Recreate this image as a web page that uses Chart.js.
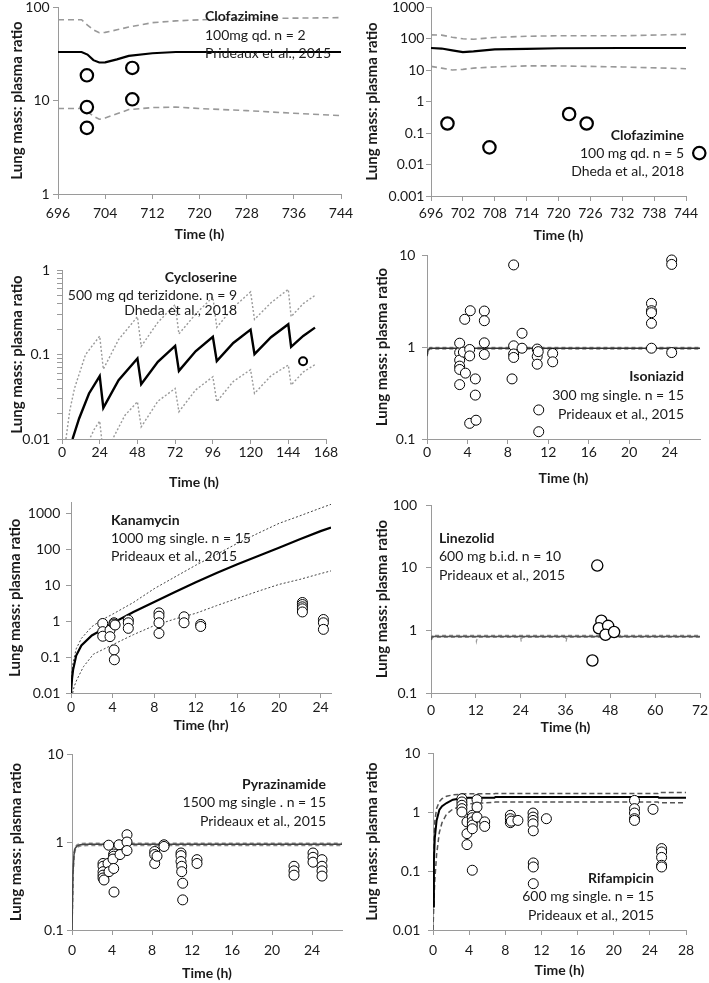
<!DOCTYPE html>
<html>
<head>
<meta charset="utf-8">
<title>Lung mass: plasma ratio</title>
<script src="https://cdn.jsdelivr.net/npm/chart.js@4.4.1/dist/chart.umd.min.js"></script>
<style>
  html, body { margin: 0; padding: 0; background: #fff; }
  body { width: 709px; height: 983px; position: relative; overflow: hidden; }
  canvas { position: absolute; }
</style>
</head>
<body>
<canvas id="clof-prideaux"></canvas>
<canvas id="clof-dheda"></canvas>
<canvas id="cycloserine"></canvas>
<canvas id="isoniazid"></canvas>
<canvas id="kanamycin"></canvas>
<canvas id="linezolid"></canvas>
<canvas id="pyrazinamide"></canvas>
<canvas id="rifampicin"></canvas>
<script>
// ---- CLOFAZIMINE (Prideaux) ----
const clofPT   = [696, 700, 701, 702, 703, 704, 706, 708, 712, 716, 720, 728, 736, 744];
const clofPMid = [33, 33, 31, 27, 25.5, 25.6, 27.5, 30, 32, 33, 33, 33, 33, 33];
const clofPHi  = [73, 73, 64, 57, 53, 53.5, 57, 61, 68, 71, 73, 75, 76, 77];
const clofPLo  = [8.2, 8.2, 7.6, 6.8, 6.3, 6.5, 7.2, 8.0, 8.4, 8.5, 8.2, 7.8, 7.3, 6.9];
const clofPObsT = [700.9, 700.9, 700.9, 708.6, 708.6];
const clofPObs  = [18.6, 8.5, 5.1, 22.3, 10.3];
const clofPXTicks = [696, 704, 712, 720, 728, 736, 744];
const clofPYTicks = [1, 10, 100];

// ---- CLOFAZIMINE (Dheda) ----
const clofDT   = [696, 698, 700, 702, 704, 708, 714, 720, 732, 744];
const clofDMid = [50, 48, 42, 37, 39, 45, 47, 49, 50, 50];
const clofDHi  = [130, 128, 110, 98, 95, 108, 118, 122, 122, 135];
const clofDLo  = [13, 11.5, 10, 10.5, 11.5, 12.5, 13.5, 13.5, 12.5, 11];
const clofDObsT = [699.1, 707, 722, 725.3, 746.5];   // last one sits past the 744 axis end
const clofDObs  = [0.2, 0.035, 0.4, 0.2, 0.023];
const clofDXTicks = [696, 702, 708, 714, 720, 726, 732, 738, 744];
const clofDYTicks = [0.001, 0.01, 0.1, 1, 10, 100, 1000];

// ---- CYCLOSERINE ----
const cycMidT = [6.7, 10.9, 17.2, 24, 26.3, 36, 48, 50.4, 61, 72, 74.4, 85, 96, 98.5, 109, 120, 122.5, 133, 144, 145.8, 153.5, 161];
const cycMid  = [0.01, 0.0175, 0.0346, 0.0555, 0.0234, 0.0497, 0.0897, 0.0446, 0.082, 0.1265, 0.064, 0.109, 0.162, 0.0834, 0.137, 0.197, 0.101, 0.16, 0.228, 0.123, 0.166, 0.208];
const cycHiT  = [2.5, 5, 8, 15, 24, 26.3, 36, 48, 50.4, 61, 72, 74.4, 85, 96, 98.5, 109, 120, 122.5, 133, 144, 145.8, 153.5, 161];
const cycHi   = [0.01, 0.022, 0.04, 0.1, 0.165, 0.067, 0.15, 0.28, 0.125, 0.24, 0.39, 0.175, 0.3, 0.48, 0.21, 0.36, 0.55, 0.26, 0.41, 0.59, 0.28, 0.4, 0.5];
const cycLoT  = [17, 20.5, 24, 26.3, 32, 40, 48, 50.4, 61, 72, 74.4, 85, 96, 98.5, 109, 120, 122.5, 133, 144, 145.8, 153.5, 161];
const cycLo   = [0.0095, 0.013, 0.0163, 0.0066, 0.0098, 0.019, 0.0276, 0.0139, 0.028, 0.0397, 0.021, 0.038, 0.0545, 0.0276, 0.048, 0.066, 0.0346, 0.056, 0.075, 0.0435, 0.062, 0.076];
const cycObsT = [153.4];
const cycObs  = [0.083];
const cycXTicks = [0, 24, 48, 72, 96, 120, 144, 168];
const cycYTicks = [0.01, 0.02, 0.03, 0.04, 0.05, 0.06, 0.07, 0.08, 0.09, 0.1, 0.2, 0.3, 0.4, 0.5, 0.6, 0.7, 0.8, 0.9, 1];
const cycYLabels = ['0.01', '', '', '', '', '', '', '', '', '0.1', '', '', '', '', '', '', '', '', '1'];

// ---- ISONIAZID ----
const isoLineT = [0, 0.1, 0.3, 27];
const isoMid = [0.8, 0.93, 0.97, 0.97];
const isoHi  = [0.82, 0.95, 0.99, 0.99];
const isoLo  = [0.78, 0.9, 0.95, 0.95];
const isoObsT = [3.23, 3.23, 3.23, 3.23, 3.23, 3.23, 3.73, 3.8, 3.6, 4.22, 4.22, 4.28, 4.22, 4.78, 4.78, 4.85, 5.67, 5.67, 5.67, 5.67, 8.57, 8.41, 8.57, 8.57, 8.57, 9.4, 9.4, 10.9, 10.9, 10.9, 11.0, 11.05, 11.05, 12.43, 12.43, 22.2, 22.2, 22.2, 22.2, 22.2, 24.2, 24.2, 24.2];
const isoObs  = [0.87, 1.10, 0.72, 0.62, 0.57, 0.39, 2.0, 0.52, 0.88, 0.94, 0.80, 2.48, 0.148, 0.45, 0.30, 0.16, 2.46, 1.93, 1.11, 0.83, 7.8, 0.45, 1.03, 0.84, 0.77, 1.41, 0.97, 0.95, 0.79, 0.65, 0.89, 0.207, 0.12, 0.85, 0.69, 2.98, 2.48, 2.36, 1.81, 0.97, 8.83, 7.9, 0.87];
const isoXTicks = [0, 4, 8, 12, 16, 20, 24];
const isoYTicks = [0.1, 1, 10];

// ---- KANAMYCIN ----
const kanLineT = [0, 0.1, 0.2, 0.5, 1, 2, 3, 4, 6, 8, 10, 12, 14, 16, 18, 20, 22, 24, 25];
const kanMid = [0.01, 0.025, 0.044, 0.11, 0.21, 0.4, 0.58, 0.88, 1.8, 3.4, 6.5, 12, 22, 38, 65, 110, 190, 320, 400];
const kanHi  = [0.01, 0.04, 0.07, 0.17, 0.33, 0.7, 1.1, 1.56, 3.3, 8, 17, 36, 72, 146, 280, 525, 850, 1400, 1780];
const kanLoT = [0.16, 0.3, 0.55, 1.2, 2.15, 4, 6, 8, 10, 12, 14, 16, 18, 20, 22, 24, 25];
const kanLo  = [0.01, 0.015, 0.023, 0.054, 0.12, 0.22, 0.42, 0.75, 1.15, 1.65, 2.7, 4.3, 6.8, 10.5, 14.5, 21, 25];
const kanObsT = [3.05, 3.05, 3.05, 3.75, 3.75, 4.14, 4.14, 4.24, 4.14, 4.17, 5.51, 5.51, 5.51, 8.46, 8.46, 8.46, 8.46, 10.87, 10.87, 12.47, 12.47, 22.25, 22.25, 22.25, 22.25, 22.25, 24.27, 24.27, 24.27];
const kanObs  = [0.86, 0.51, 0.38, 0.56, 0.37, 0.9, 0.83, 0.78, 0.158, 0.084, 1.07, 0.9, 0.63, 1.7, 1.37, 0.9, 0.456, 1.32, 0.9, 0.81, 0.71, 3.3, 2.9, 2.5, 2.2, 1.8, 1.11, 0.9, 0.59];
const kanXTicks = [0, 4, 8, 12, 16, 20, 24];
const kanYTicks = [0.01, 0.1, 1, 10, 100, 1000];

// ---- LINEZOLID ----
const linLineT = [0, 0.3, 12, 12.15, 12.4, 24, 24.15, 24.4, 36, 36.15, 36.4, 72];
const linMid = [0.7, 0.8, 0.8, 0.8, 0.8, 0.8, 0.8, 0.8, 0.8, 0.8, 0.8, 0.8];
const linHi  = [0.72, 0.83, 0.83, 0.83, 0.83, 0.83, 0.83, 0.83, 0.83, 0.83, 0.83, 0.83];
const linLo  = [0.55, 0.77, 0.77, 0.66, 0.77, 0.77, 0.66, 0.77, 0.77, 0.66, 0.77, 0.77];
const linObsT = [44.5, 45.6, 44.95, 47.4, 46.7, 49.0, 43.2];
const linObs  = [10.8, 1.42, 1.08, 1.18, 0.85, 0.94, 0.33];
const linXTicks = [0, 12, 24, 36, 48, 60, 72];
const linYTicks = [0.1, 1, 10, 100];

// ---- PYRAZINAMIDE ----
const pyrLineT = [0, 0.1, 0.2, 0.3, 0.5, 0.8, 1.5, 27];
const pyrMid = [0.1, 0.45, 0.72, 0.84, 0.9, 0.93, 0.94, 0.94];
const pyrHi  = [0.1, 0.5, 0.76, 0.87, 0.93, 0.96, 0.97, 0.97];
const pyrLo  = [0.1, 0.4, 0.68, 0.8, 0.87, 0.9, 0.91, 0.91];
const pyrObsT = [3.1, 3.1, 3.1, 3.1, 3.1, 3.2, 3.67, 3.6, 3.7, 4.17, 4.17, 4.1, 4.17, 4.2, 4.7, 4.8, 5.5, 5.5, 5.5, 8.27, 8.27, 8.27, 8.5, 9.2, 9.2, 10.9, 10.9, 10.9, 10.97, 10.97, 11.07, 11.07, 12.5, 12.5, 22.2, 22.2, 22.2, 24.1, 24.1, 24.1, 25, 25, 25, 25];
const pyrObs  = [0.57, 0.53, 0.46, 0.42, 0.39, 0.37, 0.92, 0.57, 0.46, 0.73, 0.69, 0.64, 0.5, 0.27, 0.93, 0.72, 1.21, 1.0, 0.8, 0.78, 0.72, 0.57, 0.69, 0.93, 0.89, 0.75, 0.7, 0.6, 0.53, 0.46, 0.34, 0.22, 0.63, 0.57, 0.53, 0.47, 0.42, 0.75, 0.67, 0.59, 0.63, 0.53, 0.47, 0.41];
const pyrXTicks = [0, 4, 8, 12, 16, 20, 24];
const pyrYTicks = [0.1, 1, 10];

// ---- RIFAMPICIN ----
const rifLineT = [0, 0.1, 0.2, 0.4, 0.7, 1, 1.5, 2.2, 3.3, 4, 6.8, 6.9, 24.9, 25, 28];
const rifMid = [0.025, 0.15, 0.36, 0.72, 1.08, 1.25, 1.42, 1.62, 1.72, 1.75, 1.75, 1.8, 1.8, 1.75, 1.75];
const rifHi  = [0.05, 0.3, 0.7, 1.15, 1.5, 1.68, 1.85, 1.95, 2.02, 2.04, 2.04, 2.05, 2.05, 2.15, 2.15];
const rifLo  = [0.01, 0.03, 0.07, 0.19, 0.45, 0.66, 0.92, 1.12, 1.28, 1.37, 1.46, 1.48, 1.48, 1.44, 1.44];
const rifObsT = [3.2, 3.2, 3.2, 3.2, 3.2, 3.76, 3.76, 3.76, 4.35, 4.35, 4.35, 4.35, 4.35, 4.35, 4.87, 4.87, 4.87, 5.72, 5.72, 8.56, 8.56, 8.56, 8.67, 9.4, 11.07, 11.07, 11.07, 11.07, 11.1, 11.1, 11.1, 11.1, 12.55, 22.3, 22.3, 22.3, 22.3, 22.3, 24.35, 25.3, 25.3, 25.3, 25.3, 25.3];
const rifObs  = [1.68, 1.48, 1.3, 1.14, 1.0, 0.68, 0.43, 0.28, 0.88, 0.8, 0.68, 0.6, 0.52, 0.103, 1.62, 1.21, 0.82, 0.68, 0.57, 0.88, 0.77, 0.66, 0.7, 0.72, 0.96, 0.82, 0.72, 0.63, 0.48, 0.137, 0.117, 0.061, 0.77, 1.57, 1.14, 0.96, 0.77, 0.72, 1.11, 0.24, 0.21, 0.17, 0.125, 0.117];
const rifXTicks = [0, 4, 8, 12, 16, 20, 24, 28];
const rifYTicks = [0.01, 0.1, 1, 10];


const FONT = 'Lato, "Noto Sans", sans-serif';
const AXIS = '#9a9a9a';
const INK = '#1a1a1a';

function toXY(xs, ys) {
    return xs.map((x, i) => ({ x: x, y: ys[i] }));
}

function line(xs, ys, color, width, dash) {
    return {
        data: toXY(xs, ys),
        showLine: true,
        borderColor: color,
        borderWidth: width,
        borderDash: dash || [],
        pointRadius: 0,
        order: 1
    };
}

function dots(xs, ys, r, bw) {
    return {
        data: toXY(xs, ys),
        showLine: false,
        pointRadius: r,
        pointHoverRadius: r,
        pointBorderWidth: bw,
        pointBorderColor: '#000',
        pointBackgroundColor: '#fff',
        clip: false,
        order: 0
    };
}

// drug name + dose + source, drawn inside each panel
const panelText = {
    id: 'panelText',
    afterDraw(chart, args, opts) {
        const ctx = chart.ctx;
        ctx.save();
        ctx.fillStyle = INK;
        ctx.textBaseline = 'middle';
        ctx.textAlign = opts.align;
        opts.lines.forEach((s, i) => {
            ctx.font = (i === 0 ? 'bold ' : '') + '14px ' + FONT;
            ctx.fillText(s, opts.x, opts.y[i]);
        });
        ctx.restore();
    }
};

// Chart.js skips points outside the plot area; the Dheda clofazimine
// panel has one past 744 h, so that circle is drawn here via the scales
const outsidePoints = {
    id: 'outsidePoints',
    afterDatasetsDraw(chart) {
        const ctx = chart.ctx;
        const xs = chart.scales.x, ys = chart.scales.y;
        chart.data.datasets.forEach(ds => {
            if (!ds.drawOutside) return;
            ctx.save();
            ctx.lineWidth = ds.pointBorderWidth;
            ctx.strokeStyle = ds.pointBorderColor;
            ctx.fillStyle = ds.pointBackgroundColor;
            ds.data.forEach(d => {
                if (d.x >= xs.min && d.x <= xs.max) return;
                const px = xs.getPixelForValue(d.x);
                const py = ys.getPixelForValue(d.y);
                ctx.beginPath();
                ctx.arc(px, py, ds.pointRadius, 0, Math.PI * 2);
                ctx.fill();
                ctx.stroke();
            });
            ctx.restore();
        });
    }
};

function makePanel(p) {
    const cv = document.getElementById(p.id);
    const [bl, bt, bw, bh] = p.box;     // canvas box on the page
    const [pl, pt, pr, pb] = p.plot;    // plot area on the page
    cv.width = bw;
    cv.height = bh;
    cv.style.left = bl + 'px';
    cv.style.top = bt + 'px';
    cv.style.width = bw + 'px';
    cv.style.height = bh + 'px';

    const yLabels = p.yLabels || p.yTicks.map(String);
    const zeroPad = s => { s.paddingLeft = 0; s.paddingRight = 0; s.paddingTop = 0; s.paddingBottom = 0; };

    new Chart(cv, {
        type: 'scatter',
        data: { datasets: p.datasets },
        options: {
            responsive: false,
            animation: false,
            devicePixelRatio: 1,
            events: [],
            layout: {
                autoPadding: false,
                padding: { left: 0, bottom: 0, top: pt - bt, right: bl + bw - pr }
            },
            plugins: {
                legend: { display: false },
                tooltip: { enabled: false },
                panelText: {
                    align: p.text.align,
                    lines: p.text.lines,
                    x: p.text.x - bl,
                    y: p.text.y.map(v => v - bt)
                }
            },
            scales: {
                x: {
                    type: 'linear',
                    min: p.xTicks[0],
                    max: p.xMax,
                    afterBuildTicks: s => { s.ticks = p.xTicks.map(v => ({ value: v })); },
                    afterFit: s => { s.height = bt + bh - pb; zeroPad(s); },
                    ticks: {
                        autoSkip: false, maxRotation: 0, padding: p.xPad,
                        color: INK, font: { family: FONT, size: 14 },
                        callback: v => String(v)
                    },
                    grid: { drawOnChartArea: false, tickLength: 5, color: AXIS },
                    border: { color: AXIS },
                    title: {
                        display: true, text: p.xTitle, color: INK,
                        font: { family: FONT, size: 14, weight: 'bold' },
                        padding: { top: 0, bottom: bt + bh - p.xTitleY - 8.4 }
                    }
                },
                y: {
                    type: 'logarithmic',
                    min: p.yTicks[0],
                    max: p.yMax,
                    afterBuildTicks: s => { s.ticks = p.yTicks.map(v => ({ value: v })); },
                    afterFit: s => { s.width = pl - bl; zeroPad(s); },
                    ticks: {
                        autoSkip: false, padding: p.yPad,
                        color: INK, font: { family: FONT, size: 14 },
                        callback: (v, i) => yLabels[i]
                    },
                    grid: { drawOnChartArea: false, tickLength: 5, color: AXIS },
                    border: { color: AXIS },
                    title: {
                        display: true, text: 'Lung mass: plasma ratio', color: INK,
                        font: { family: FONT, size: 15, weight: 'bold' },
                        padding: { top: p.yTitleX - bl - 9, bottom: 0 }
                    }
                }
            }
        },
        plugins: [panelText, outsidePoints]
    });
}

const GREY_DASH = [6, 4];

makePanel({
    id: 'clof-prideaux',
    box: [0, 0, 354, 244], plot: [58, 7, 341, 194],
    xTicks: clofPXTicks, xMax: 744, yTicks: clofPYTicks, yMax: 100,
    xPad: 5.6, yPad: 3.3, yTitleX: 17, xTitleY: 234, xTitle: 'Time (h)',
    text: { align: 'left', x: 205, y: [16.7, 35, 53.3],
            lines: ['Clofazimine', '100mg qd. n = 2', 'Prideaux et al., 2015'] },
    datasets: [
        dots(clofPObsT, clofPObs, 6.2, 2.2),
        line(clofPT, clofPMid, '#000', 2.2),
        line(clofPT, clofPHi, '#999', 1.6, GREY_DASH),
        line(clofPT, clofPLo, '#999', 1.6, GREY_DASH)
    ]
});

makePanel({
    id: 'clof-dheda',
    box: [354, 0, 355, 244], plot: [431, 7, 686, 196],
    xTicks: clofDXTicks, xMax: 744, yTicks: clofDYTicks, yMax: 1000,
    xPad: 3.6, yPad: 1.6, yTitleX: 372, xTitleY: 235, xTitle: 'Time (h)',
    text: { align: 'right', x: 684, y: [135, 153.3, 171.7],
            lines: ['Clofazimine', '100 mg qd. n = 5', 'Dheda et al., 2018'] },
    datasets: [
        Object.assign(dots(clofDObsT, clofDObs, 6.2, 2.2), { drawOutside: true }),
        line(clofDT, clofDMid, '#000', 2.2),
        line(clofDT, clofDHi, '#999', 1.6, GREY_DASH),
        line(clofDT, clofDLo, '#999', 1.6, GREY_DASH)
    ]
});

makePanel({
    id: 'cycloserine',
    box: [0, 250, 354, 242], plot: [62, 270, 326, 439],
    xTicks: cycXTicks, xMax: 168, yTicks: cycYTicks, yLabels: cycYLabels, yMax: 1,
    xPad: 0, yPad: 7, yTitleX: 17, xTitleY: 482, xTitle: 'Time (h)',
    text: { align: 'right', x: 237, y: [277.3, 295, 310.7],
            lines: ['Cycloserine', '500 mg qd terizidone. n = 9', 'Dheda et al., 2018'] },
    datasets: [
        dots(cycObsT, cycObs, 4, 2),
        line(cycMidT, cycMid, '#000', 2.4),
        line(cycHiT, cycHi, '#9a9a9a', 1.4, [2, 2]),
        line(cycLoT, cycLo, '#9a9a9a', 1.4, [2, 2])
    ]
});

makePanel({
    id: 'isoniazid',
    box: [354, 250, 355, 242], plot: [427, 255, 700, 439],
    xTicks: isoXTicks, xMax: 27, yTicks: isoYTicks, yMax: 10,
    xPad: 0, yPad: 6.6, yTitleX: 382, xTitleY: 478, xTitle: 'Time (h)',
    text: { align: 'right', x: 684, y: [376.7, 395.7, 414],
            lines: ['Isoniazid', '300 mg single. n = 15', 'Prideaux et al., 2015'] },
    datasets: [
        dots(isoObsT, isoObs, 5, 1),
        line(isoLineT, isoMid, '#333', 1.5),
        line(isoLineT, isoHi, '#888', 1.5, [4, 3]),
        line(isoLineT, isoLo, '#888', 1.5, [4, 3])
    ]
});

makePanel({
    id: 'kanamycin',
    box: [0, 495, 354, 243], plot: [71, 502.5, 331, 693],
    xTicks: kanXTicks, xMax: 25, yTicks: kanYTicks, yMax: 2000,
    xPad: 0.6, yPad: 5.7, yTitleX: 15, xTitleY: 725, xTitle: 'Time (hr)',
    text: { align: 'left', x: 111, y: [520, 538.3, 556.7],
            lines: ['Kanamycin', '1000 mg single. n = 15', 'Prideaux et al., 2015'] },
    datasets: [
        dots(kanObsT, kanObs, 5, 1),
        line(kanLineT, kanMid, '#000', 2.2),
        line(kanLineT, kanHi, '#444', 1, [2, 2]),
        line(kanLoT, kanLo, '#444', 1, [2, 2])
    ]
});

makePanel({
    id: 'linezolid',
    box: [354, 495, 355, 243], plot: [431, 505, 700, 693],
    xTicks: linXTicks, xMax: 72, yTicks: linYTicks, yMax: 100,
    xPad: 3.6, yPad: 9, yTitleX: 382, xTitleY: 727, xTitle: 'Time (h)',
    text: { align: 'left', x: 439, y: [538.3, 556, 575],
            lines: ['Linezolid', '600 mg b.i.d. n = 10', 'Prideaux et al., 2015'] },
    datasets: [
        dots(linObsT, linObs, 5.6, 1.3),
        line(linLineT, linMid, '#555', 1.5),
        line(linLineT, linHi, '#888', 1.5, [4, 3]),
        line(linLineT, linLo, '#999', 1.2, [4, 3])
    ]
});

makePanel({
    id: 'pyrazinamide',
    box: [0, 740, 354, 243], plot: [72, 754, 342, 930],
    xTicks: pyrXTicks, xMax: 27, yTicks: pyrYTicks, yMax: 10,
    xPad: 6.6, yPad: 3.4, yTitleX: 16, xTitleY: 973, xTitle: 'Time (h)',
    text: { align: 'right', x: 326, y: [784.3, 802.7, 821],
            lines: ['Pyrazinamide', '1500 mg single . n = 15', 'Prideaux et al., 2015'] },
    datasets: [
        dots(pyrObsT, pyrObs, 5, 1),
        line(pyrLineT, pyrMid, '#444', 1.5),
        line(pyrLineT, pyrHi, '#888', 1.5, [4, 3]),
        line(pyrLineT, pyrLo, '#888', 1.5, [4, 3])
    ]
});

makePanel({
    id: 'rifampicin',
    box: [354, 740, 355, 243], plot: [433, 753, 686, 930],
    xTicks: rifXTicks, xMax: 28, yTicks: rifYTicks, yMax: 10,
    xPad: 6.6, yPad: 7.6, yTitleX: 372, xTitleY: 970, xTitle: 'Time (h)',
    text: { align: 'right', x: 654, y: [878.3, 896.7, 915.7],
            lines: ['Rifampicin', '600 mg single. n = 15', 'Prideaux et al., 2015'] },
    datasets: [
        dots(rifObsT, rifObs, 5, 1),
        line(rifLineT, rifMid, '#000', 2),
        line(rifLineT, rifHi, '#555', 1.5, [5, 3]),
        line(rifLineT, rifLo, '#555', 1.5, [5, 3])
    ]
});
</script>
</body>
</html>
